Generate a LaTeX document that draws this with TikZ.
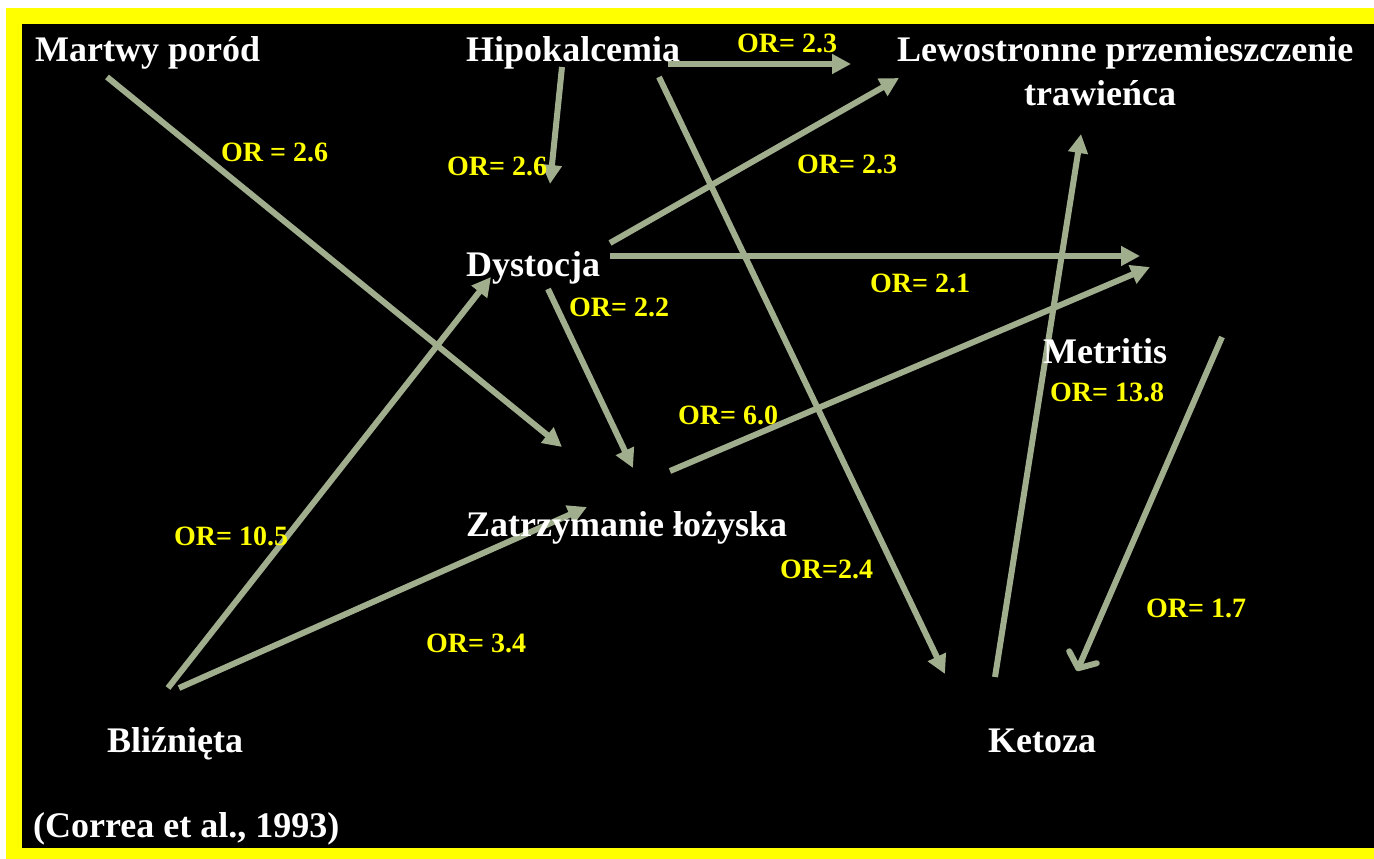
\documentclass[tikz,border=0pt]{standalone}
\usepackage{fontspec}
\setmainfont{Liberation Serif}
\usetikzlibrary{arrows.meta}
\definecolor{arrowcol}{RGB}{160,174,142}
\definecolor{oryellow}{RGB}{255,255,0}
\begin{document}
\begin{tikzpicture}[x=1pt,y=-1pt,
  lbl/.style={anchor=base west, inner sep=0pt, text=white, font=\bfseries\fontsize{36}{43}\selectfont},
  orl/.style={anchor=base west, inner sep=0pt, text=oryellow, font=\bfseries\fontsize{28}{34}\selectfont},
  conn/.style={draw=arrowcol, line width=6pt, -{Triangle[length=19pt,width=19pt]}},
  barbconn/.style={draw=arrowcol, line width=6pt, -{Straight Barb[length=12pt,width=30pt,round]}}]
\useasboundingbox (0,0) rectangle (1374,859);
\fill[white] (0,0) rectangle (1374,859);
\fill[oryellow] (6,8) rectangle (1374,859);
\fill[black] (22,24) rectangle (1374,848);

% connector end points
\coordinate (a1s) at (107,77);  \coordinate (a1e) at (562,447);
\coordinate (a2s) at (562,67);  \coordinate (a2e) at (550,184);
\coordinate (a3s) at (668,64);  \coordinate (a3e) at (851,64);
\coordinate (a4s) at (659,77);  \coordinate (a4e) at (945,674);
\coordinate (a5s) at (610,243); \coordinate (a5e) at (899,78);
\coordinate (a6s) at (610,256); \coordinate (a6e) at (1140,256);
\coordinate (a7s) at (548,289); \coordinate (a7e) at (633,468);
\coordinate (a8s) at (168,688); \coordinate (a8e) at (491,277);
\coordinate (a9s) at (179,688); \coordinate (a9e) at (587,507);
\coordinate (a10s) at (670,471); \coordinate (a10e) at (1150,267);
\coordinate (a11s) at (995,677); \coordinate (a11e) at (1081,134);
\coordinate (a12s) at (1222,337); \coordinate (a12e) at (1077,671);

\draw[conn] (a1s) -- (a1e);
\draw[conn] (a2s) -- (a2e);
\draw[conn] (a3s) -- (a3e);
\draw[conn] (a4s) -- (a4e);
\draw[conn] (a5s) -- (a5e);
\draw[conn] (a6s) -- (a6e);
\draw[conn] (a7s) -- (a7e);
\draw[conn] (a8s) -- (a8e);
\draw[conn] (a9s) -- (a9e);
\draw[conn] (a10s) -- (a10e);
\draw[conn] (a11s) -- (a11e);
\draw[barbconn] (a12s) -- (a12e);

% main labels
\node[lbl] (mp) at (35,62) {Martwy poród};
\node[lbl] (hk) at (466,62) {Hipokalcemia};
\node[lbl] (lda) at (897,62) {Lewostronne przemieszczenie};
\node[lbl] (lda2) at (1024,105) {trawieńca};
\node[lbl] (dys) at (466,276) {Dystocja};
\node[lbl] (met) at (1043,363) {Metritis};
\node[lbl] (zl) at (466,536) {Zatrzymanie łożyska};
\node[lbl] (bl) at (107,752) {Bliźnięta};
\node[lbl] (ket) at (988,752) {Ketoza};
\node[lbl] (src) at (33,837) {(Correa et al., 1993)};

% OR labels
\node[orl] (or1) at (221,161) {OR = 2.6};
\node[orl] (or2) at (447,175) {OR= 2.6};
\node[orl] (or3) at (737,53) {OR= 2.3};
\node[orl] (or4) at (797,173) {OR= 2.3};
\node[orl] (or5) at (569,316) {OR= 2.2};
\node[orl] (or6) at (870,292) {OR= 2.1};
\node[orl] (or7) at (1050,401) {OR= 13.8};
\node[orl] (or8) at (678,424) {OR= 6.0};
\node[orl] (or9) at (174,545) {OR= 10.5};
\node[orl] (or10) at (780,578) {OR=2.4};
\node[orl] (or11) at (426,652) {OR= 3.4};
\node[orl] (or12) at (1146,617) {OR= 1.7};
\end{tikzpicture}
\end{document}
